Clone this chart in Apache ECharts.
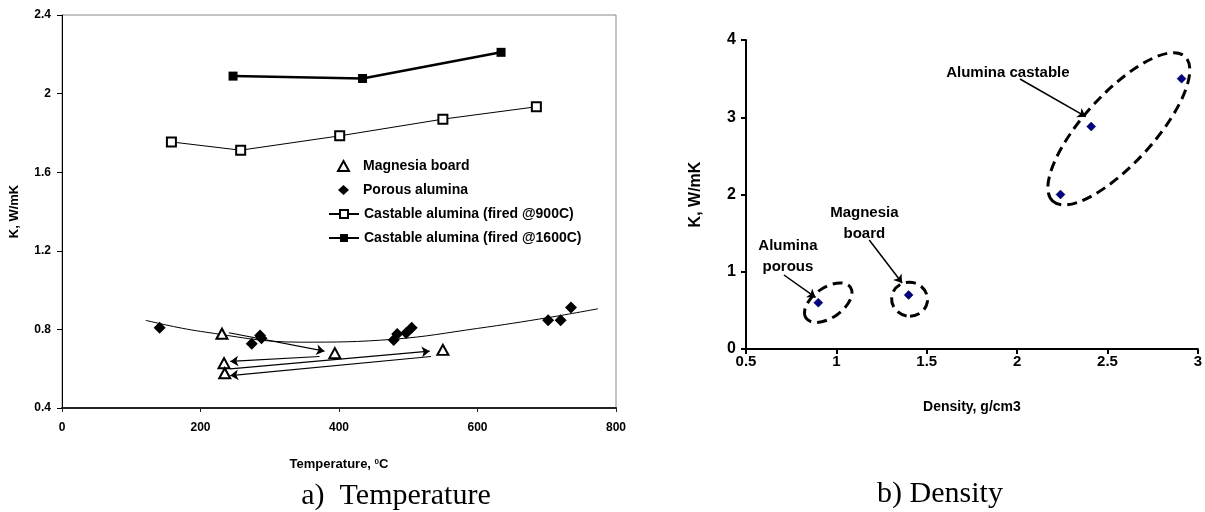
<!DOCTYPE html>
<html>
<head>
<meta charset="utf-8">
<script src="https://cdn.jsdelivr.net/npm/echarts@6/dist/echarts.min.js"></script>
<style>
html, body { margin: 0; padding: 0; background: #fff; }
#chart { width: 1205px; height: 512px; }
</style>
</head>
<body>
<div id="chart"></div>
<script>
// a) conductivity vs temperature
var magnesiaT = [231, 394, 550, 234, 235];
var magnesiaK = [0.778, 0.679, 0.696, 0.628, 0.577];
var porousT = [141, 274, 286, 288, 479, 484, 497, 505, 702, 720, 735];
var porousK = [0.808, 0.727, 0.769, 0.755, 0.746, 0.777, 0.782, 0.808, 0.846, 0.846, 0.911];
var cast900T = [158, 258, 401, 550, 685];
var cast900K = [1.754, 1.712, 1.785, 1.870, 1.933];
var cast1600T = [247, 434, 634];
var cast1600K = [2.089, 2.077, 2.210];
// trend line
var trendT = [121, 200, 344, 479, 600, 702, 774];
var trendK = [0.846, 0.790, 0.735, 0.750, 0.805, 0.860, 0.905];
// arrows between magnesia board readings (from -> to)
var magArrows = [
    [[241, 0.783], [379, 0.689]],
    [[372, 0.662], [243, 0.637]],
    [[243, 0.599], [531, 0.689]],
    [[533, 0.662], [243, 0.565]]
];

// b) conductivity vs density
var density = [0.90, 1.40, 2.24, 2.41, 2.91];
var densityK = [0.60, 0.70, 2.00, 2.88, 3.50];
var ringCenters = [[0.955, 0.60], [1.405, 0.645], [2.563, 2.85]];
var noteText = ['Alumina\nporous', 'Magnesia\nboard', 'Alumina castable'];
var notePos = [[0.732, 1.204], [1.155, 1.631], [1.949, 3.573]];
var noteArrows = [
    [[0.710, 0.958], [0.885, 0.667]],
    [[1.182, 1.411], [1.364, 0.854]],
    [[2.016, 3.495], [2.380, 3.008]]
];

function zip(a, b) {
    var out = [];
    for (var i = 0; i < a.length; i++) out.push([a[i], b[i]]);
    return out;
}

function arrowPairs(list) {
    return list.map(function (a) {
        return [{ coord: a[0], symbol: 'none' }, { coord: a[1], symbol: 'arrow', symbolSize: 8 }];
    });
}

var sans = "'Liberation Sans', Arial, sans-serif";
var serif = "'Liberation Serif', 'Times New Roman', serif";
// ellipse sizes in px: rx, ry, tilt (deg)
var ringShape = [[27, 15, 35], [17, 18, 80], [98, 35, 47.6]];

var legendText = { fontFamily: sans, fontWeight: 'bold', fontSize: 14, color: '#000', lineHeight: 14 };

var dom = document.getElementById('chart');
var myChart = echarts.init(dom);

var option = {
    animation: false,
    backgroundColor: '#fff',
    grid: [
        { left: 62, right: 589, top: 15, bottom: 104, show: true, borderColor: '#888', borderWidth: 1 },
        { left: 746, right: 6, top: 40, bottom: 163 }
    ],
    xAxis: [{
        gridIndex: 0, type: 'value', min: 0, max: 800, interval: 200,
        name: 'Temperature, {sup|0}C', nameLocation: 'middle', nameGap: 50,
        nameTextStyle: {
            fontFamily: sans, fontWeight: 'bold', fontSize: 13, color: '#000',
            rich: { sup: { fontFamily: sans, fontWeight: 'bold', fontSize: 8, verticalAlign: 'top', color: '#000' } }
        },
        axisLine: { lineStyle: { color: '#222', width: 2 } },
        axisTick: { length: 4, lineStyle: { color: '#222' } },
        axisLabel: { margin: 14, fontFamily: sans, fontWeight: 'bold', fontSize: 12, color: '#000' },
        splitLine: { show: false }
    }, {
        gridIndex: 1, type: 'value', min: 0.5, max: 3, interval: 0.5,
        name: 'Density, g/cm3', nameLocation: 'middle', nameGap: 51,
        nameTextStyle: { fontFamily: sans, fontWeight: 'bold', fontSize: 14, color: '#000' },
        axisLine: { onZero: false, lineStyle: { color: '#000', width: 2 } },
        axisTick: { length: 5, lineStyle: { color: '#000', width: 2 } },
        axisLabel: { margin: 5, fontFamily: sans, fontWeight: 'bold', fontSize: 15, color: '#000' },
        splitLine: { show: false }
    }],
    yAxis: [{
        gridIndex: 0, type: 'value', min: 0.4, max: 2.4, interval: 0.4,
        name: 'K, W/mK', nameLocation: 'middle', nameGap: 41,
        nameTextStyle: { fontFamily: sans, fontWeight: 'bold', fontSize: 13, color: '#000' },
        axisLine: { show: true, lineStyle: { color: '#000', width: 1 } },
        axisTick: { show: true, length: 5, lineStyle: { color: '#000' } },
        axisLabel: { margin: 11, fontFamily: sans, fontWeight: 'bold', fontSize: 12, color: '#000' },
        splitLine: { show: false }
    }, {
        gridIndex: 1, type: 'value', min: 0, max: 4, interval: 1,
        name: 'K, W/mK', nameLocation: 'middle', nameGap: 42,
        nameTextStyle: { fontFamily: sans, fontWeight: 'bold', fontSize: 16, color: '#000' },
        axisLine: { show: true, lineStyle: { color: '#000', width: 2 } },
        axisTick: { show: true, length: 5, lineStyle: { color: '#000', width: 2 } },
        axisLabel: { margin: 10, fontFamily: sans, fontWeight: 'bold', fontSize: 16, color: '#000' },
        splitLine: { show: false }
    }],
    legend: [{
        // marker-only entries: small icon box, text pushed to line up with the rows below
        orient: 'vertical', left: 337, top: 159, padding: 0,
        itemGap: 10, itemWidth: 11, itemHeight: 10,
        textStyle: Object.assign({ padding: [0, 0, 0, 9] }, legendText),
        data: ['Magnesia board', 'Porous alumina']
    }, {
        orient: 'vertical', left: 328, top: 207, padding: 0,
        itemGap: 10, itemWidth: 30, itemHeight: 10,
        textStyle: legendText,
        data: ['Castable alumina (fired @900C)', 'Castable alumina (fired @1600C)']
    }],
    graphic: [
        { type: 'text', x: 396, y: 496, style: { text: 'a)  Temperature', fontFamily: serif, fontSize: 30, fill: '#000', align: 'center', verticalAlign: 'middle' } },
        { type: 'text', x: 940, y: 494, style: { text: 'b) Density', fontFamily: serif, fontSize: 30, fill: '#000', align: 'center', verticalAlign: 'middle' } }
    ],
    series: [{
        name: 'trend', type: 'line', xAxisIndex: 0, yAxisIndex: 0,
        data: zip(trendT, trendK), smooth: 0.4, showSymbol: false, silent: true, z: 1,
        lineStyle: { color: '#000', width: 1 }, itemStyle: { color: '#000' }
    }, {
        name: 'Magnesia board', type: 'scatter', xAxisIndex: 0, yAxisIndex: 0,
        data: zip(magnesiaT, magnesiaK), symbol: 'emptyTriangle', symbolSize: [11, 10],
        itemStyle: { color: '#000', borderWidth: 1, opacity: 1 },
        markLine: {
            silent: true, animation: false,
            symbol: ['none', 'arrow'], symbolSize: 8,
            lineStyle: { color: '#000', width: 1.2, type: 'solid' },
            label: { show: false },
            data: arrowPairs(magArrows)
        }
    }, {
        name: 'Porous alumina', type: 'scatter', xAxisIndex: 0, yAxisIndex: 0,
        data: zip(porousT, porousK), symbol: 'diamond', symbolSize: 12,
        itemStyle: { color: '#000', opacity: 1 }
    }, {
        name: 'Castable alumina (fired @900C)', type: 'line', xAxisIndex: 0, yAxisIndex: 0,
        data: zip(cast900T, cast900K), symbol: 'emptyRect', symbolSize: 9,
        color: '#000', lineStyle: { color: '#000', width: 1 },
        itemStyle: { color: '#000', borderWidth: 1 }
    }, {
        name: 'Castable alumina (fired @1600C)', type: 'line', xAxisIndex: 0, yAxisIndex: 0,
        data: zip(cast1600T, cast1600K), symbol: 'rect', symbolSize: 9,
        color: '#000', lineStyle: { color: '#000', width: 2.5 },
        itemStyle: { color: '#000' }
    }, {
        name: 'rings', type: 'custom', xAxisIndex: 1, yAxisIndex: 1,
        data: ringCenters, silent: true, z: 1,
        renderItem: function (params, api) {
            var p = api.coord([api.value(0), api.value(1)]);
            var s = ringShape[params.dataIndex];
            return {
                type: 'ellipse', x: p[0], y: p[1], rotation: s[2] * Math.PI / 180,
                shape: { cx: 0, cy: 0, rx: s[0], ry: s[1] },
                style: { fill: 'none', stroke: '#000', lineWidth: 3, lineDash: [10, 6] }
            };
        }
    }, {
        name: 'density', type: 'scatter', xAxisIndex: 1, yAxisIndex: 1,
        data: zip(density, densityK), symbol: 'diamond', symbolSize: 9, z: 3,
        itemStyle: { color: '#000080', borderColor: '#000040', borderWidth: 0.5, opacity: 1 },
        markPoint: {
            silent: true, animation: false,
            symbol: 'circle', symbolSize: 1,
            itemStyle: { color: 'rgba(0,0,0,0)' },
            label: { show: true, position: 'inside', formatter: function (p) { return p.name; },
                fontFamily: sans, fontWeight: 'bold', fontSize: 15, lineHeight: 21, color: '#000', align: 'center' },
            data: noteText.map(function (t, i) { return { name: t, coord: notePos[i] }; })
        },
        markLine: {
            silent: true, animation: false,
            symbol: ['none', 'arrow'], symbolSize: 8,
            lineStyle: { color: '#000', width: 1.5, type: 'solid' },
            label: { show: false },
            data: arrowPairs(noteArrows)
        }
    }]
};

if (option && typeof option === 'object') {
    myChart.setOption(option);
}
</script>
</body>
</html>
